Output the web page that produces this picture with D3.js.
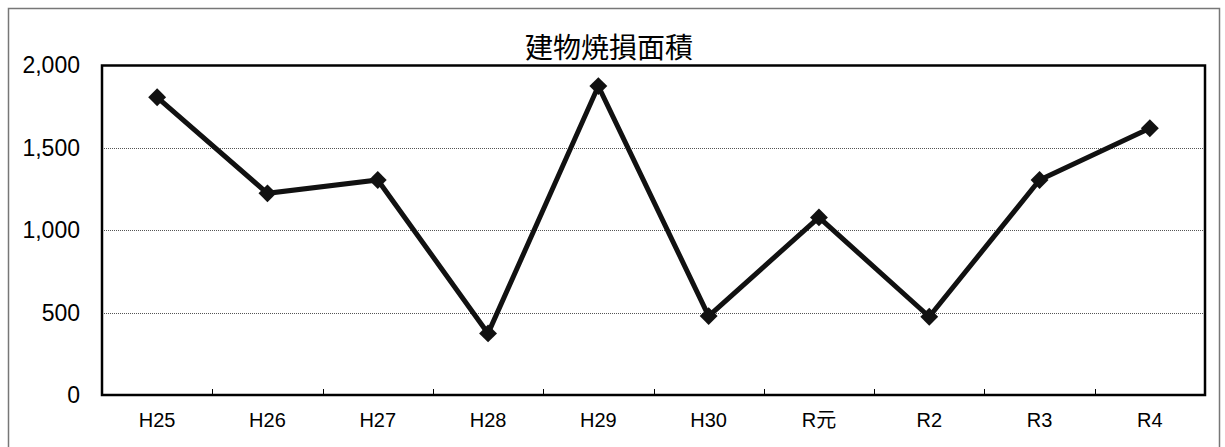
<!DOCTYPE html>
<html>
<head>
<meta charset="utf-8">
<script src="https://cdn.jsdelivr.net/npm/d3@7"></script>
<style>
  html, body { margin: 0; padding: 0; background: #fff; }
  svg { display: block; }
</style>
</head>
<body>
<svg id="chart" width="1225" height="447"></svg>
<script>
// 建物焼損面積 (年度別)
const categories = ["H25", "H26", "H27", "H28", "H29", "H30", "R元", "R2", "R3", "R4"];
const areaValues = [1807, 1224, 1305, 374, 1875, 479, 1078, 475, 1305, 1619];
const yTicks = [0, 500, 1000, 1500, 2000];
const titleText = "建物焼損面積";

const svg = d3.select("#chart");
const plot = { left: 102, top: 65.5, right: 1205, bottom: 395 };

// outer frame
svg.append("rect")
  .attr("x", 8.5).attr("y", 8.5)
  .attr("width", 1211).attr("height", 460)
  .attr("fill", "#fff").attr("stroke", "#777").attr("stroke-width", 1.5);

const x = d3.scaleBand().domain(categories).range([plot.left, plot.right]).padding(0);
const y = d3.scaleLinear().domain([0, 2000]).range([plot.bottom, plot.top]);

// horizontal gridlines (dotted)
svg.append("g")
  .selectAll("line")
  .data(yTicks.filter(d => d > 0 && d < 2000))
  .join("line")
  .attr("x1", plot.left).attr("x2", plot.right)
  .attr("y1", d => Math.round(y(d)) + 0.5).attr("y2", d => Math.round(y(d)) + 0.5)
  .attr("stroke", "#555").attr("stroke-width", 1).attr("stroke-dasharray", "1,1");

// plot frame
svg.append("rect")
  .attr("x", plot.left).attr("y", plot.top)
  .attr("width", plot.right - plot.left).attr("height", plot.bottom - plot.top)
  .attr("fill", "none").attr("stroke", "#000").attr("stroke-width", 2.5);

// y axis labels
const yAxis = d3.axisLeft(y).tickValues(yTicks).tickSize(0).tickPadding(22)
  .tickFormat(d3.format(","));
const gy = svg.append("g").attr("transform", `translate(${plot.left},0)`).call(yAxis);
gy.select(".domain").remove();
gy.selectAll("text")
  .attr("font-family", "'Liberation Sans', Arial, sans-serif")
  .attr("font-size", 23).attr("fill", "#000");

// x axis: category boundary ticks pointing inward
const bounds = categories.slice(1).map(c => x(c));
svg.append("g").selectAll("line")
  .data(bounds)
  .join("line")
  .attr("x1", d => Math.round(d) + 0.5).attr("x2", d => Math.round(d) + 0.5)
  .attr("y1", plot.bottom).attr("y2", plot.bottom - 6)
  .attr("stroke", "#000").attr("stroke-width", 1);

const xAxis = d3.axisBottom(x).tickSize(0).tickPadding(18);
const gx = svg.append("g").attr("transform", `translate(0,${plot.bottom})`).call(xAxis);
gx.select(".domain").remove();
gx.selectAll("text")
  .attr("font-family", "'Liberation Sans', 'Noto Sans CJK JP', Arial, sans-serif")
  .attr("font-size", 20).attr("fill", "#000");

// title
svg.append("text")
  .attr("x", 609).attr("y", 58)
  .attr("text-anchor", "middle")
  .attr("font-family", "'Noto Sans CJK JP', sans-serif")
  .attr("font-size", 28).attr("fill", "#000")
  .text(titleText);

// series line
const pts = categories.map((c, i) => [x(c) + x.bandwidth() / 2, y(areaValues[i])]);
svg.append("path")
  .attr("d", d3.line()(pts))
  .attr("fill", "none").attr("stroke", "#111").attr("stroke-width", 5)
  .attr("stroke-linejoin", "miter");

// diamond markers
const diamond = d3.symbol().type(d3.symbolSquare).size(160);
svg.append("g").selectAll("path")
  .data(categories.map((c, i) => ({ c, v: areaValues[i] })))
  .join("path")
  .attr("d", diamond)
  .attr("transform", d => `translate(${x(d.c) + x.bandwidth() / 2},${y(d.v)}) rotate(45)`)
  .attr("fill", "#111");
</script>
</body>
</html>
